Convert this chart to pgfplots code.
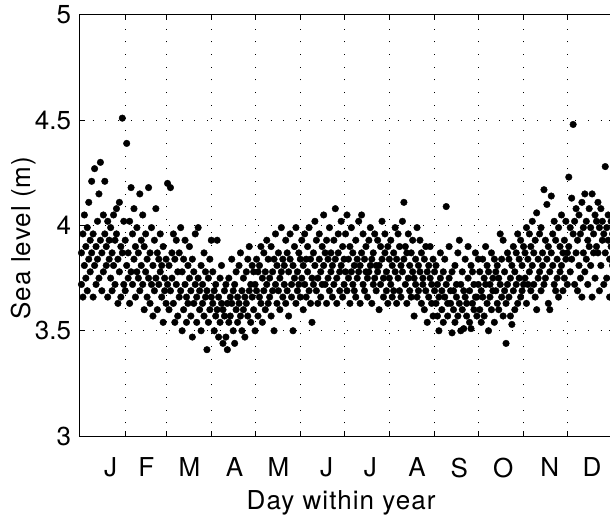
\documentclass[border=0pt]{standalone}
\usepackage{fontspec}
\setmainfont{TeX Gyre Heros}
\newfontfamily\labelfont[LetterSpace=4]{TeX Gyre Heros}
\usepackage{pgfplots}
\pgfplotsset{compat=1.18}
\usetikzlibrary{calc}
\begin{document}
\fontsize{26}{31}\selectfont
\begin{tikzpicture}
\begin{axis}[
  scale only axis, width=534pt, height=421pt,
  xmin=0, xmax=366, ymin=3, ymax=5,
  xtick={31,59,90,120,151,181,212,243,273,304,334},
  xticklabels={},
  extra x ticks={21,45.5,75,106,136,169,199,231,260,290,322,351},
  extra x tick labels={J,F,M,A,M,J,J,A,S,O,N,D},
  extra x tick style={grid=none, major tick length=0pt, tick label style={yshift=-13pt}},
  ytick={3,3.5,4,4.5,5},
  yticklabels={3,3.5,4,4.5,5},
  grid=major,
  major grid style={black, line width=1pt, dash pattern=on 1pt off 11.7pt},
  tick align=inside, major tick length=5pt,
  every tick/.style={black, line width=1pt},
  axis line style={line width=1pt},
  tick label style={font=\fontsize{26}{31}\selectfont},
  label style={font=\labelfont\fontsize{26}{31}\selectfont},
  /pgf/number format/assume math mode=true,
  xlabel={Day within year},
  ylabel={Sea level (m)},
  xlabel style={at={(rel axis cs:0.489,0)}, anchor=base, yshift=-73pt},
  ylabel style={at={($(rel axis cs:0,0.47)+(-49pt,0)$)}, anchor=base},
]
\addplot[only marks, mark=*, mark size=3.3pt, black] coordinates {
(1,3.87)(1,3.72)(2,3.96)(2,3.66)(3,3.81)(3,4.05)(4,3.90)(4,3.75)(5,3.69)(5,3.99)
(6,4.11)(6,3.84)(7,3.78)(7,3.93)(8,4.21)(8,3.87)(9,3.66)(9,3.96)(10,4.27)(10,3.81)
(11,3.90)(11,3.72)(12,4.02)(12,3.84)(13,4.15)(13,3.75)(14,3.93)(14,4.30)(15,3.87)(15,3.69)
(16,4.05)(16,3.78)(17,3.96)(17,4.21)(18,3.81)(18,3.90)(19,3.66)(19,4.02)(20,3.93)(20,3.84)
(21,3.75)(21,3.99)(22,3.87)(22,3.69)(23,4.05)(23,3.81)(24,3.72)(24,3.93)(25,3.96)(25,4.08)
(26,3.84)(26,3.63)(27,4.11)(27,3.78)(28,3.90)(28,3.66)(29,4.51)(29,3.87)(30,3.72)(30,4.02)
(31,3.93)(31,3.69)(32,4.39)(32,3.81)(33,3.87)(33,3.75)(34,4.02)(34,3.63)(35,3.78)(35,4.18)
(36,3.96)(36,3.72)(37,3.84)(37,4.08)(38,3.66)(38,3.90)(39,3.99)(39,3.78)(40,3.75)(40,3.87)
(41,4.15)(41,3.69)(42,3.81)(42,3.93)(43,3.72)(43,4.05)(44,3.90)(44,3.60)(45,3.78)(45,3.96)
(46,3.66)(46,3.84)(47,4.18)(47,3.75)(48,3.87)(48,3.63)(49,3.72)(49,3.99)(50,3.81)(50,3.57)
(51,3.93)(51,3.69)(52,3.75)(52,4.08)(53,3.60)(53,3.87)(54,3.84)(54,3.72)(55,3.78)(55,3.96)
(56,3.66)(56,3.81)(57,3.90)(57,3.54)(58,3.75)(58,3.69)(59,3.84)(59,3.63)
(60,4.20)(60,3.72)(61,3.81)(61,3.60)(62,4.18)(62,3.69)(63,3.75)(63,3.87)(64,3.63)(64,3.96)
(65,3.84)(65,3.54)(66,3.72)(66,3.93)(67,3.57)(67,3.78)(68,3.87)(68,3.66)(69,3.69)(69,3.99)
(70,3.78)(70,3.50)(71,3.60)(71,3.84)(72,3.93)(72,3.72)(73,3.66)(73,3.54)(74,3.81)(74,3.63)
(75,3.75)(75,3.90)(76,3.57)(76,3.69)(77,3.84)(77,3.47)(78,3.63)(78,3.78)(79,3.72)(79,3.96)
(80,3.54)(80,3.66)(81,3.99)(81,3.75)(82,3.69)(82,3.60)(83,3.81)(83,3.50)(84,3.63)(84,3.72)
(85,3.87)(85,3.57)(86,3.66)(86,3.78)(87,3.41)(87,3.69)(88,3.75)(88,3.54)(89,3.60)(89,3.84)
(90,3.93)(90,3.66)
(91,3.63)(91,3.78)(92,3.50)(92,3.69)(93,3.72)(93,3.57)(94,3.93)(94,3.60)(95,3.66)(95,3.47)
(96,3.54)(96,3.75)(97,3.81)(97,3.63)(98,3.60)(98,3.44)(99,3.69)(99,3.57)(100,3.47)(100,3.72)
(101,3.41)(101,3.63)(102,3.75)(102,3.54)(103,3.57)(103,3.66)(104,3.63)(104,3.84)(105,3.50)(105,3.69)
(106,3.72)(106,3.44)(107,3.60)(107,3.78)(108,3.66)(108,3.54)(109,3.81)(109,3.63)(110,3.57)(110,3.87)
(111,3.69)(111,3.50)(112,3.75)(112,3.60)(113,3.47)(113,3.66)(114,3.63)(114,3.78)(115,3.84)(115,3.57)
(116,3.90)(116,3.69)(117,3.54)(117,3.72)(118,3.66)(118,3.81)(119,3.78)(119,3.60)(120,3.72)(120,3.50)
(121,3.69)(121,3.84)(122,3.57)(122,3.78)(123,3.81)(123,3.66)(124,3.63)(124,3.90)(125,3.75)(125,3.54)
(126,3.87)(126,3.69)(127,3.60)(127,3.78)(128,3.72)(128,3.93)(129,3.84)(129,3.63)(130,3.66)(130,3.75)
(131,3.90)(131,3.57)(132,3.78)(132,3.69)(133,3.50)(133,3.84)(134,3.72)(134,3.96)(135,3.63)(135,3.81)
(136,3.87)(136,3.69)(137,3.75)(137,3.60)(138,3.99)(138,3.78)(139,3.66)(139,3.84)(140,3.81)(140,3.72)
(141,3.93)(141,3.63)(142,3.69)(142,3.87)(143,3.78)(143,3.57)(144,3.84)(144,3.96)(145,3.72)(145,3.66)
(146,3.50)(146,3.81)(147,3.90)(147,3.75)(148,3.63)(148,3.99)(149,3.78)(149,3.69)(150,3.87)(150,3.72)
(151,3.66)(151,3.84)
(152,3.93)(152,3.75)(153,3.60)(153,3.81)(154,3.72)(154,3.96)(155,3.84)(155,3.66)(156,3.78)(156,3.90)
(157,3.99)(157,3.69)(158,3.63)(158,3.84)(159,3.54)(159,3.75)(160,3.87)(160,3.72)(161,3.81)(161,4.02)
(162,3.69)(162,3.93)(163,3.75)(163,3.63)(164,3.96)(164,3.84)(165,3.66)(165,3.78)(166,3.90)(166,3.72)
(167,3.81)(167,4.05)(168,3.72)(168,3.87)(169,3.63)(169,3.93)(170,3.84)(170,3.75)(171,3.99)(171,3.69)
(172,3.78)(172,3.87)(173,3.66)(173,3.81)(174,3.93)(174,3.72)(175,4.08)(175,3.84)(176,3.75)(176,3.63)
(177,3.87)(177,3.96)(178,3.69)(178,3.78)(179,3.81)(179,4.02)(180,3.90)(180,3.66)(181,3.72)(181,3.84)
(182,3.96)(182,3.78)(183,4.05)(183,3.69)(184,3.84)(184,3.75)(185,3.63)(185,3.90)(186,3.78)(186,3.99)
(187,3.87)(187,3.72)(188,3.69)(188,3.81)(189,3.93)(189,3.66)(190,3.75)(190,3.84)(191,4.02)(191,3.78)
(192,3.81)(192,3.63)(193,4.05)(193,3.87)(194,3.72)(194,3.96)(195,3.84)(195,3.69)(196,3.90)(196,3.78)
(197,3.66)(197,3.75)(198,3.78)(198,3.93)(199,3.99)(199,3.81)(200,3.63)(200,3.84)(201,3.87)(201,3.72)
(202,3.75)(202,3.96)(203,3.69)(203,3.81)(204,3.93)(204,3.78)(205,3.81)(205,3.60)(206,3.72)(206,3.90)
(207,3.84)(207,4.02)(208,3.66)(208,3.75)(209,3.96)(209,3.87)(210,3.78)(210,3.69)(211,3.90)(211,3.63)
(212,3.75)(212,3.84)
(213,3.93)(213,3.72)(214,3.81)(214,3.66)(215,3.69)(215,3.87)(216,3.99)(216,3.78)(217,3.84)(217,3.63)
(218,3.75)(218,3.96)(219,3.90)(219,3.69)(220,3.66)(220,3.81)(221,3.78)(221,4.02)(222,4.11)(222,3.84)
(223,3.72)(223,3.90)(224,3.87)(224,3.63)(225,3.96)(225,3.75)(226,3.81)(226,3.69)(227,3.66)(227,3.87)
(228,3.93)(228,3.78)(229,3.75)(229,3.57)(230,3.84)(230,3.72)(231,3.99)(231,3.66)(232,3.69)(232,3.81)
(233,3.78)(233,3.93)(234,3.87)(234,3.63)(235,3.72)(235,3.75)(236,3.60)(236,3.84)(237,3.90)(237,3.69)
(238,3.54)(238,3.78)(239,3.81)(239,3.66)(240,3.75)(240,3.90)(241,3.63)(241,3.72)(242,3.84)(242,3.57)
(243,3.69)(243,3.78)
(244,3.81)(244,3.63)(245,3.72)(245,3.57)(246,3.50)(246,3.66)(247,3.87)(247,3.75)(248,3.60)(248,3.69)
(249,3.78)(249,3.54)(250,3.66)(250,3.84)(251,4.09)(251,3.72)(252,3.57)(252,3.63)(253,3.75)(253,3.90)
(254,3.63)(254,3.69)(255,3.49)(255,3.78)(256,3.69)(256,3.60)(257,3.81)(257,3.54)(258,3.66)(258,3.72)
(259,3.57)(259,3.87)(260,3.93)(260,3.63)(261,3.72)(261,3.50)(262,3.60)(262,3.78)(263,3.51)(263,3.69)
(264,3.84)(264,3.66)(265,3.63)(265,3.57)(266,3.75)(266,3.90)(267,3.69)(267,3.54)(268,3.51)(268,3.81)
(269,3.78)(269,3.63)(270,3.60)(270,3.72)(271,3.87)(271,3.66)(272,3.66)(272,3.57)(273,3.72)(273,3.84)
(274,3.60)(274,3.78)(275,3.69)(275,3.54)(276,3.84)(276,3.66)(277,3.57)(277,3.75)(278,3.72)(278,3.90)
(279,3.63)(279,3.81)(280,3.78)(280,3.50)(281,3.66)(281,3.72)(282,3.87)(282,3.60)(283,3.75)(283,3.69)
(284,3.54)(284,3.84)(285,3.69)(285,3.78)(286,3.81)(286,3.63)(287,3.60)(287,3.75)(288,3.96)(288,3.72)
(289,3.66)(289,3.84)(290,3.93)(290,3.57)(291,3.78)(291,3.69)(292,3.44)(292,3.63)(293,3.72)(293,3.87)
(294,3.84)(294,3.66)(295,3.57)(295,3.75)(296,3.53)(296,3.81)(297,3.69)(297,3.90)(298,3.78)(298,3.60)
(299,3.87)(299,3.72)(300,3.63)(300,3.96)(301,3.75)(301,3.84)(302,3.66)(302,3.93)(303,3.81)(303,3.69)
(304,3.90)(304,3.72)
(305,3.75)(305,3.87)(306,3.63)(306,3.99)(307,3.84)(307,3.72)(308,3.96)(308,3.78)(309,3.69)(309,3.90)
(310,3.81)(310,4.02)(311,3.72)(311,3.87)(312,3.93)(312,3.66)(313,4.06)(313,3.60)(314,3.84)(314,3.75)
(315,3.78)(315,3.96)(316,3.99)(316,3.69)(317,3.87)(317,3.81)(318,4.17)(318,3.72)(319,3.75)(319,3.93)
(320,4.10)(320,3.84)(321,3.90)(321,3.63)(322,3.60)(322,3.78)(323,4.14)(323,3.87)(324,3.81)(324,3.96)
(325,3.72)(325,4.02)(326,3.93)(326,3.69)(327,3.84)(327,3.75)(328,3.99)(328,3.66)(329,3.78)(329,3.90)
(330,4.05)(330,3.81)(331,3.69)(331,3.87)(332,3.93)(332,3.75)(333,4.02)(333,3.84)(334,3.87)(334,3.72)
(335,4.23)(335,3.90)(336,3.78)(336,3.99)(337,4.13)(337,3.84)(338,4.48)(338,3.96)(339,3.72)(339,4.02)
(340,3.87)(340,4.08)(341,3.93)(341,3.69)(342,4.05)(342,3.81)(343,3.75)(343,3.96)(344,3.66)(344,4.11)
(345,3.99)(345,3.87)(346,4.15)(346,3.78)(347,3.84)(347,4.02)(348,3.93)(348,3.72)(349,4.08)(349,3.90)
(350,3.81)(350,3.99)(351,4.15)(351,3.66)(352,3.96)(352,3.87)(353,3.75)(353,4.05)(354,4.02)(354,3.90)
(355,3.87)(355,4.11)(356,3.69)(356,3.99)(357,4.08)(357,3.81)(358,3.93)(358,4.02)(359,3.72)(359,3.96)
(360,4.28)(360,3.87)(361,3.99)(361,3.75)(362,4.05)(362,3.93)(363,3.66)(363,3.84)(364,3.90)(364,4.02)
(365,3.81)(365,3.96)
};
\end{axis}
\pgfresetboundingbox
\path[use as bounding box] ([xshift=-80pt,yshift=-81pt]current axis.south west) rectangle ([xshift=530pt,yshift=436pt]current axis.south west);
\end{tikzpicture}
\end{document}
